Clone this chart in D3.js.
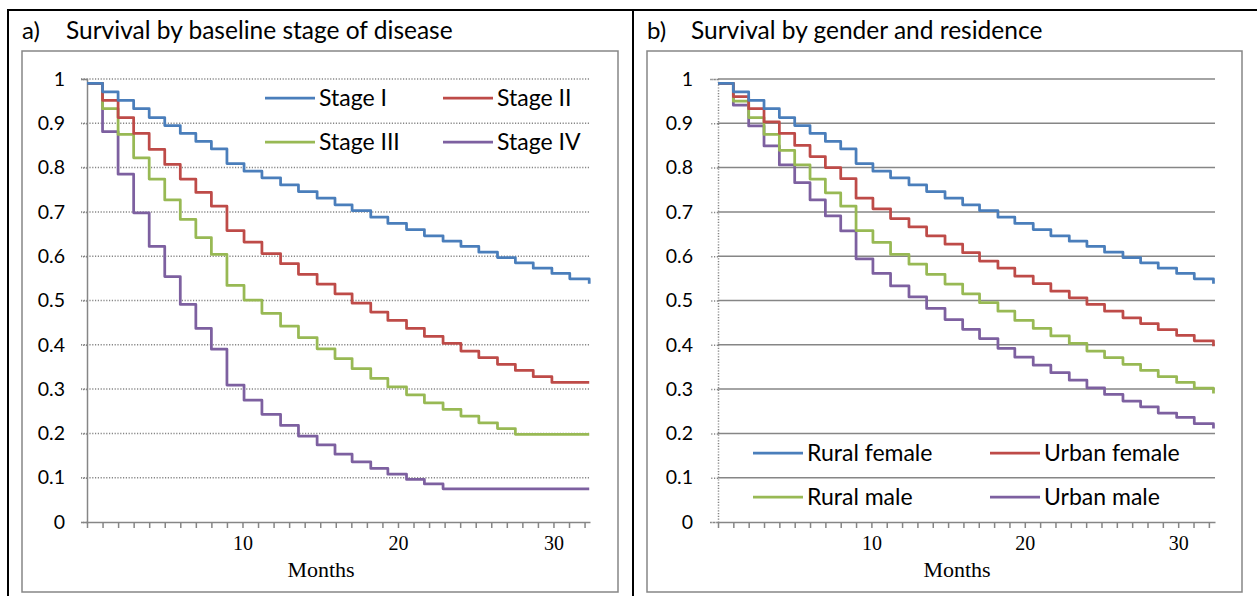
<!DOCTYPE html>
<html>
<head>
<meta charset="utf-8">
<script src="https://cdn.jsdelivr.net/npm/d3@7"></script>
<style>
  body { margin: 0; background: #fff; }
  svg { display: block; }
  .sans { font-family: Lato, "Open Sans", sans-serif; fill: #000; }
  .serif { font-family: "Liberation Serif", "DejaVu Serif", serif; fill: #000; }
</style>
</head>
<body>
<script>
// momentos (meses) en los que baja cada escalón, compartidos por todas las curvas
const months = [0, 1, 2, 3, 4, 5, 6, 7, 8, 9, 10.1, 11.25, 12.45, 13.6, 14.8,
  15.95, 17.05, 18.25, 19.35, 20.55, 21.7, 22.9, 24.05, 25.2, 26.4, 27.55, 28.7, 29.9, 31.05, 32.3];

// a) por estadio
const stageNames = ['Stage I', 'Stage II', 'Stage III', 'Stage IV'];
const stage1 = [0.99, 0.971, 0.952, 0.933, 0.913, 0.895, 0.877, 0.859, 0.842, 0.809, 0.792, 0.777, 0.761, 0.746, 0.731,
  0.716, 0.703, 0.688, 0.674, 0.660, 0.646, 0.634, 0.622, 0.609, 0.597, 0.585, 0.573, 0.561, 0.549, 0.538];
const stage2 = [0.99, 0.952, 0.913, 0.877, 0.841, 0.807, 0.774, 0.744, 0.713, 0.658, 0.632, 0.606, 0.583, 0.559, 0.537,
  0.515, 0.494, 0.474, 0.455, 0.437, 0.419, 0.403, 0.386, 0.371, 0.356, 0.342, 0.328, 0.315, 0.315, 0.315];
const stage3 = [0.99, 0.933, 0.875, 0.822, 0.774, 0.727, 0.683, 0.642, 0.604, 0.534, 0.501, 0.471, 0.442, 0.416, 0.391,
  0.369, 0.346, 0.324, 0.305, 0.287, 0.269, 0.254, 0.239, 0.224, 0.211, 0.198, 0.198, 0.198, 0.198, 0.198];
const stage4 = [0.99, 0.881, 0.785, 0.698, 0.622, 0.554, 0.491, 0.437, 0.390, 0.309, 0.275, 0.243, 0.218, 0.194, 0.174,
  0.153, 0.136, 0.121, 0.108, 0.096, 0.086, 0.075, 0.075, 0.075, 0.075, 0.075, 0.075, 0.075, 0.075, 0.075];

// b) por sexo y residencia
const groupNames = ['Rural female', 'Urban female', 'Rural male', 'Urban male'];
const ruralFemale = [0.99, 0.971, 0.952, 0.933, 0.913, 0.895, 0.877, 0.859, 0.842, 0.809, 0.792, 0.777, 0.761, 0.746, 0.731,
  0.716, 0.703, 0.688, 0.674, 0.660, 0.646, 0.634, 0.622, 0.609, 0.597, 0.585, 0.573, 0.561, 0.549, 0.538];
const urbanFemale = [0.99, 0.960, 0.933, 0.903, 0.877, 0.850, 0.825, 0.800, 0.775, 0.731, 0.707, 0.685, 0.666, 0.646, 0.627,
  0.608, 0.589, 0.573, 0.555, 0.538, 0.521, 0.506, 0.491, 0.476, 0.461, 0.448, 0.434, 0.421, 0.409, 0.397];
const ruralMale = [0.99, 0.950, 0.913, 0.875, 0.839, 0.806, 0.774, 0.743, 0.713, 0.658, 0.631, 0.604, 0.582, 0.559, 0.537,
  0.515, 0.495, 0.476, 0.455, 0.437, 0.420, 0.403, 0.386, 0.371, 0.356, 0.342, 0.328, 0.315, 0.302, 0.290];
const urbanMale = [0.99, 0.941, 0.894, 0.849, 0.806, 0.766, 0.727, 0.691, 0.657, 0.594, 0.561, 0.533, 0.508, 0.482, 0.457,
  0.435, 0.414, 0.392, 0.372, 0.354, 0.337, 0.320, 0.303, 0.288, 0.273, 0.260, 0.246, 0.236, 0.222, 0.211];

// ejes
const yTicks = [0, 0.1, 0.2, 0.3, 0.4, 0.5, 0.6, 0.7, 0.8, 0.9, 1];
const xTicks = d3.range(0, 33);
const xTickLabels = [10, 20, 30];

// colores de Excel
const colors = ['#4a7ebb', '#be4b48', '#98b954', '#7d60a0'];
const grey = '#868686';

const svg = d3.select('body')
  .append('svg')
  .attr('width', 1257)
  .attr('height', 596);

// bordes de la tabla
svg.append('path')
  .attr('d', 'M8,596V10H1257M633,10V596')
  .attr('fill', 'none')
  .attr('stroke', '#000')
  .attr('stroke-width', 2);

const drawPanel = (opts) => {
  const g = svg.append('g');

  // marco gris del gráfico
  g.append('rect')
    .attr('x', opts.frame[0])
    .attr('y', 51)
    .attr('width', opts.frame[1] - opts.frame[0])
    .attr('height', 541)
    .attr('fill', 'none')
    .attr('stroke', grey)
    .attr('stroke-width', 1.5);

  // título
  g.append('text')
    .attr('class', 'sans')
    .attr('x', opts.frame[0])
    .attr('y', 39)
    .style('font-size', '24px')
    .text(opts.letter);

  g.append('text')
    .attr('class', 'sans')
    .attr('x', opts.frame[0] + 44)
    .attr('y', 39)
    .style('font-size', '24.5px')
    .text(opts.title);

  const x = d3.scaleLinear()
    .domain([0, opts.xMax])
    .range(opts.xRange);

  const y = d3.scaleLinear()
    .domain([0, 1])
    .range([522, 79]);

  // líneas de la rejilla
  g.append('g')
    .selectAll('line')
    .data(yTicks.filter(d => d > 0))
    .join('line')
    .attr('x1', opts.dottedGrid ? opts.xRange[0] - 6 : opts.xRange[0])
    .attr('x2', opts.xRange[1])
    .attr('y1', d => y(d))
    .attr('y2', d => y(d))
    .attr('stroke', grey)
    .attr('stroke-width', 1.5)
    .attr('stroke-dasharray', opts.dottedGrid ? '1.2,1.6' : null);

  // eje y
  const yAxis = d3.axisLeft(y)
    .tickValues(yTicks)
    .tickFormat(d3.format('~g'))
    .tickSize(opts.dottedGrid ? 6 : 8)
    .tickPadding(opts.dottedGrid ? 16 : 17);

  const gy = g.append('g')
    .attr('transform', `translate(${opts.xRange[0]},0)`)
    .call(yAxis);

  gy.select('.domain')
    .attr('stroke', grey)
    .attr('stroke-width', 1.5)
    .attr('stroke-dasharray', opts.dottedGrid ? null : '1.2,1.6');

  gy.selectAll('.tick line')
    .attr('stroke', grey)
    .attr('stroke-width', 1.5)
    .attr('stroke-dasharray', '1.2,1.6');

  gy.selectAll('.tick text')
    .attr('class', 'sans')
    .style('font-size', '19.5px');

  // eje x
  const xAxis = d3.axisBottom(x)
    .tickValues(xTicks)
    .tickFormat(d => xTickLabels.includes(d) ? d : '')
    .tickSize(6)
    .tickPadding(8)
    .tickSizeOuter(0);

  const gx = g.append('g')
    .attr('transform', `translate(0,${y(0)})`)
    .call(xAxis);

  gx.select('.domain')
    .attr('stroke', grey)
    .attr('stroke-width', 1.5);

  gx.selectAll('.tick line')
    .attr('stroke', grey)
    .attr('stroke-width', 1.5);

  gx.selectAll('.tick text')
    .attr('class', 'serif')
    .style('font-size', '20px');

  g.append('text')
    .attr('class', 'serif')
    .attr('x', opts.monthsX)
    .attr('y', 577)
    .attr('text-anchor', 'middle')
    .style('font-size', '22px')
    .text('Months');

  // curvas de supervivencia
  const line = d3.line()
    .x(d => x(d[0]))
    .y(d => y(d[1]))
    .curve(d3.curveStepAfter);

  // se pintan de abajo arriba: la primera serie queda encima
  opts.series.slice().reverse().forEach((s, j) => {
    const i = opts.series.length - 1 - j;
    g.append('path')
      .datum(months.map((m, k) => [m, s[k]]))
      .attr('d', line)
      .attr('fill', 'none')
      .attr('stroke', colors[i])
      .attr('stroke-width', 2.75)
      .attr('stroke-linejoin', 'round');
  });

  // leyenda 2x2
  const legend = g.append('g')
    .selectAll('g')
    .data(opts.names)
    .join('g')
    .attr('transform', (d, i) =>
      `translate(${opts.legendX[i % 2]},${opts.legendY[Math.floor(i / 2)]})`);

  legend.append('line')
    .attr('x1', 0)
    .attr('x2', 50)
    .attr('stroke', (d, i) => colors[i])
    .attr('stroke-width', 2.75);

  legend.append('text')
    .attr('class', 'sans')
    .attr('x', 54)
    .attr('dy', '0.36em')
    .style('font-size', '23px')
    .text(d => d);
};

drawPanel({
  letter: 'a)',
  title: 'Survival by baseline stage of disease',
  frame: [22, 618],
  xRange: [87, 590],
  xMax: 32.35,
  monthsX: 321,
  dottedGrid: true,
  series: [stage1, stage2, stage3, stage4],
  names: stageNames,
  legendX: [265, 443],
  legendY: [98, 142]
});

drawPanel({
  letter: 'b)',
  title: 'Survival by gender and residence',
  frame: [647, 1242],
  xRange: [718, 1215],
  xMax: 32.4,
  monthsX: 957,
  dottedGrid: false,
  series: [ruralFemale, urbanFemale, ruralMale, urbanMale],
  names: groupNames,
  legendX: [753, 990],
  legendY: [453, 497]
});
</script>
</body>
</html>
